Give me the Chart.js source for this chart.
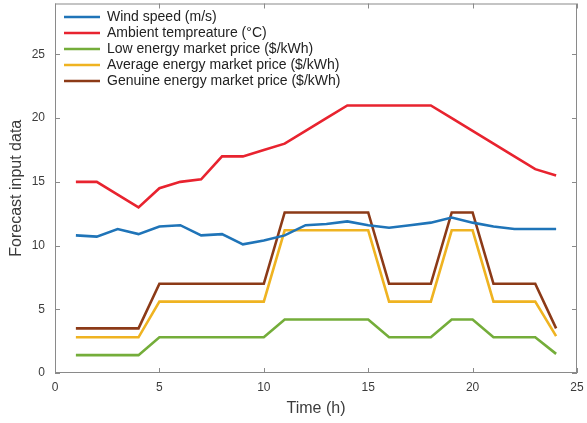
<!DOCTYPE html>
<html>
<head>
<meta charset="utf-8">
<script src="https://cdn.jsdelivr.net/npm/chart.js@4"></script>
<style>
  html, body { margin: 0; padding: 0; background: #fff; }
  #wrap { width: 587px; height: 423px; }
</style>
</head>
<body>
<div id="wrap"><canvas id="chart"></canvas></div>
<script>
// datos
const hours = [1, 2, 3, 4, 5, 6, 7, 8, 9, 10, 11, 12, 13, 14, 15, 16, 17, 18, 19, 20, 21, 22, 23, 24];
const windSpeed = [10.8, 10.7, 11.3, 10.9, 11.5, 11.6, 10.8, 10.9, 10.1, 10.4, 10.8, 11.6, 11.7, 11.9, 11.6, 11.4, 11.6, 11.8, 12.2, 11.8, 11.5, 11.3, 11.3, 11.3];
const ambientTemp = [15, 15, 14, 13, 14.5, 15, 15.2, 17, 17, 17.5, 18, 19, 20, 21, 21, 21, 21, 21, 20, 19, 18, 17, 16, 15.5];
const lowPrice = [1.4, 1.4, 1.4, 1.4, 2.8, 2.8, 2.8, 2.8, 2.8, 2.8, 4.2, 4.2, 4.2, 4.2, 4.2, 2.8, 2.8, 2.8, 4.2, 4.2, 2.8, 2.8, 2.8, 1.5];
const avgPrice = [2.8, 2.8, 2.8, 2.8, 5.6, 5.6, 5.6, 5.6, 5.6, 5.6, 11.2, 11.2, 11.2, 11.2, 11.2, 5.6, 5.6, 5.6, 11.2, 11.2, 5.6, 5.6, 5.6, 2.9];
const genuinePrice = [3.5, 3.5, 3.5, 3.5, 7, 7, 7, 7, 7, 7, 12.6, 12.6, 12.6, 12.6, 12.6, 7, 7, 7, 12.6, 12.6, 7, 7, 7, 3.5];
const xTicks = [0, 5, 10, 15, 20, 25];
const yTicks = [0, 5, 10, 15, 20, 25];

const toPoints = (vals) => vals.map((v, i) => ({ x: hours[i], y: v }));

const series = [
  { label: "Wind speed (m/s)", data: windSpeed, color: "#1f74b8" },
  { label: "Ambient tempreature (°C)", data: ambientTemp, color: "#e8232f" },
  { label: "Low energy market price ($/kWh)", data: lowPrice, color: "#74ad3a" },
  { label: "Average energy market price ($/kWh)", data: avgPrice, color: "#efb321" },
  { label: "Genuine energy market price ($/kWh)", data: genuinePrice, color: "#8c3a17" }
];

const axisColor = "#8a8a8a";
const textColor = "#3c3c3c";
const font = "'Liberation Sans', Arial, sans-serif";

// caja estilo matlab con ticks hacia adentro
const boxPlugin = {
  id: "box",
  afterDraw(chart) {
    const { ctx, chartArea: a, scales } = chart;
    ctx.save();
    ctx.strokeStyle = axisColor;
    ctx.lineWidth = 1;
    ctx.strokeRect(a.left + 0.5, a.top + 0.5, a.right - a.left - 1, a.bottom - a.top - 1);
    ctx.beginPath();
    xTicks.forEach((t) => {
      const px = Math.round(scales.x.getPixelForValue(t)) + 0.5;
      ctx.moveTo(px, a.bottom); ctx.lineTo(px, a.bottom - 5);
      ctx.moveTo(px, a.top); ctx.lineTo(px, a.top + 5);
    });
    yTicks.forEach((t) => {
      const py = Math.round(scales.y.getPixelForValue(t)) + 0.5;
      ctx.moveTo(a.left, py); ctx.lineTo(a.left + 5, py);
      ctx.moveTo(a.right, py); ctx.lineTo(a.right - 5, py);
    });
    ctx.stroke();
    ctx.restore();
  }
};

// mover la leyenda un poco dentro del area
const legendShift = {
  id: "legendShift",
  afterLayout(chart) {
    const lg = chart.legend;
    if (!lg) return;
    const a = chart.chartArea;
    lg.left = a.left + 7; lg.right = a.right;
    lg.top = a.top + 4.5; lg.bottom = a.bottom;
  }
};

new Chart(document.getElementById("chart"), {
  type: "line",
  data: {
    datasets: series.map((s) => ({
      label: s.label,
      data: toPoints(s.data),
      borderColor: s.color,
      backgroundColor: s.color,
      borderWidth: 2.6,
      pointRadius: 0,
      tension: 0
    }))
  },
  options: {
    responsive: true,
    maintainAspectRatio: false,
    animation: false,
    layout: { padding: { top: 3.5, right: 10, left: 0, bottom: 0 } },
    scales: {
      x: {
        type: "linear",
        min: 0,
        max: 25,
        afterBuildTicks: (s) => { s.ticks = xTicks.map((v) => ({ value: v })); },
        afterFit: (s) => { s.height = 50; s.paddingLeft = 0; s.paddingRight = 0; },
        grid: { display: false, drawTicks: false },
        border: { display: false },
        ticks: { color: textColor, padding: 7, font: { family: font, size: 12 } },
        title: { display: true, text: "Time (h)", color: textColor, font: { family: font, size: 16 }, padding: { top: 0, bottom: 5 } }
      },
      y: {
        min: 0,
        max: 29,
        afterBuildTicks: (s) => { s.ticks = yTicks.map((v) => ({ value: v })); },
        afterFit: (s) => { s.width = 55; s.paddingTop = 0; s.paddingBottom = 0; },
        grid: { display: false, drawTicks: false },
        border: { display: false },
        ticks: { color: textColor, padding: 10, font: { family: font, size: 12 } },
        title: { display: true, text: "Forecast input data", color: textColor, font: { family: font, size: 16 }, padding: { top: 7, bottom: 0 } }
      }
    },
    plugins: {
      legend: {
        position: "chartArea",
        align: "start",
        labels: {
          usePointStyle: true,
          pointStyle: "line",
          pointStyleWidth: 36,
          boxHeight: 14,
          padding: 2,
          color: "#222",
          font: { family: font, size: 14 }
        }
      },
      tooltip: { enabled: false }
    }
  },
  plugins: [boxPlugin, legendShift]
});
</script>
</body>
</html>
